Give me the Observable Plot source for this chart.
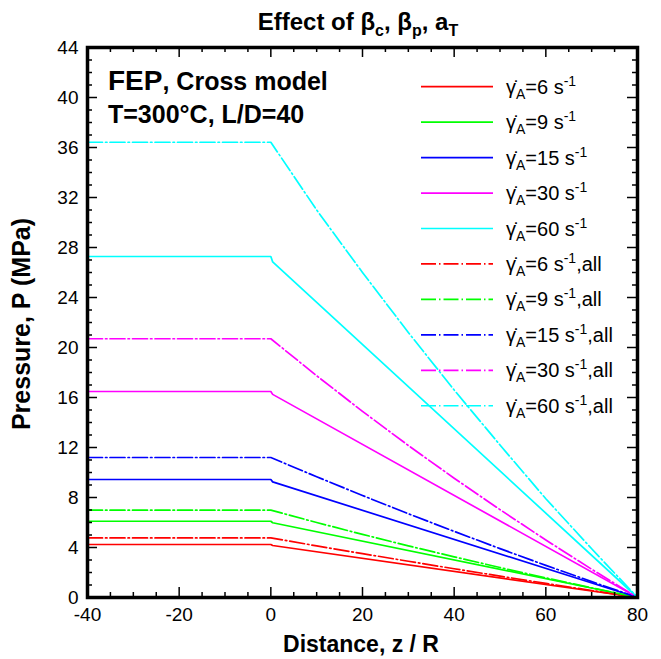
<!DOCTYPE html>
<html>
<head>
<meta charset="utf-8">
<script src="https://cdn.jsdelivr.net/npm/d3@7"></script>
<script src="https://cdn.jsdelivr.net/npm/@observablehq/plot@0.6"></script>
<style>
  html, body { margin: 0; padding: 0; background: #fff; }
  #chart svg { display: block; }
</style>
</head>
<body>
<div id="chart"></div>
<script>
// ---- data ----
const rates = ["6", "9", "15", "30", "60"];
const colors = ["#ff0000", "#00ff00", "#0000ff", "#ff00ff", "#00ffff"];

// solid lines: plateau, small drop just after z=0, zero at exit
const solidX = [-40, 0, 0.4, 80];
const solidPlateau = [4.24, 6.10, 9.44, 16.48, 27.28];
const solidAfterEntry = [4.16, 5.98, 9.25, 16.25, 26.85];

// dash-dot lines ("all": beta_c, beta_p, a_T)
const allX = [-40, 0, 10, 20, 30, 40, 50, 60, 70, 80];
const all6  = [4.77, 4.77, 4.13, 3.51, 2.90, 2.30, 1.71, 1.13, 0.56, 0];
const all9  = [6.99, 6.99, 6.00, 5.05, 4.13, 3.25, 2.40, 1.57, 0.77, 0];
const all15 = [11.2, 11.2, 9.66, 8.16, 6.70, 5.29, 3.91, 2.57, 1.27, 0];
const all30 = [20.7, 20.7, 17.74, 14.89, 12.16, 9.54, 7.03, 4.60, 2.26, 0];
const all60 = [36.42, 36.42, 31.0, 26.0, 21.2, 16.6, 12.2, 7.9, 3.9, 0];
const allSeries = [all6, all9, all15, all30, all60];

const xMajor = [-40, -20, 0, 20, 40, 60, 80];
const yMajor = [0, 4, 8, 12, 16, 20, 24, 28, 32, 36, 40, 44];

// ---- tables ----
const solidRows = [];
rates.forEach((r, i) => {
  const ys = [solidPlateau[i], solidPlateau[i], solidAfterEntry[i], 0];
  solidX.forEach((x, j) => solidRows.push({series: r, color: colors[i], x, y: ys[j]}));
});
const allRows = [];
rates.forEach((r, i) => {
  allX.forEach((x, j) => allRows.push({series: r + "all", color: colors[i], x, y: allSeries[i][j]}));
});

const xMinor = d3.range(-40, 80.1, 5).filter(v => !xMajor.includes(v));
const yMinor = d3.range(0, 44.1, 1).filter(v => !yMajor.includes(v));

const W = 661, H = 659;
const mL = 87, mR = 24, mT = 47, mB = 62;
const pxX = 120 / (W - mL - mR);   // x units per pixel
const pxY = 44 / (H - mT - mB);    // y units per pixel
const majLen = 10, minLen = 5;

const FONT = "'Liberation Sans', Arial, Helvetica, sans-serif";

const plot = Plot.plot({
  width: W, height: H,
  marginLeft: mL, marginRight: mR, marginTop: mT, marginBottom: mB,
  style: {fontFamily: FONT, fontSize: "18px", color: "#000", background: "#fff", overflow: "visible"},
  x: {domain: [-40, 80]},
  y: {domain: [0, 44]},
  marks: [
    Plot.line(solidRows, {x: "x", y: "y", z: "series", stroke: "color", strokeWidth: 1.7}),
    Plot.line(allRows, {x: "x", y: "y", z: "series", stroke: "color", strokeWidth: 1.7, strokeDasharray: "15,3,1.5,3"}),
    Plot.ruleX(xMajor, {x: d => d, y1: 0, y2: majLen * pxY, stroke: "#000", strokeWidth: 1.5}),
    Plot.ruleX(xMinor, {x: d => d, y1: 0, y2: minLen * pxY, stroke: "#000", strokeWidth: 1.5}),
    Plot.ruleX(xMajor, {x: d => d, y1: 44, y2: 44 - majLen * pxY, stroke: "#000", strokeWidth: 1.5}),
    Plot.ruleX(xMinor, {x: d => d, y1: 44, y2: 44 - minLen * pxY, stroke: "#000", strokeWidth: 1.5}),
    Plot.ruleY(yMajor, {y: d => d, x1: -40, x2: -40 + majLen * pxX, stroke: "#000", strokeWidth: 1.5}),
    Plot.ruleY(yMinor, {y: d => d, x1: -40, x2: -40 + minLen * pxX, stroke: "#000", strokeWidth: 1.5}),
    Plot.ruleY(yMajor, {y: d => d, x1: 80, x2: 80 - majLen * pxX, stroke: "#000", strokeWidth: 1.5}),
    Plot.ruleY(yMinor, {y: d => d, x1: 80, x2: 80 - minLen * pxX, stroke: "#000", strokeWidth: 1.5}),
    Plot.axisX({ticks: xMajor, tickSize: 0, tickPadding: 10, label: null, fontSize: 19, tickFormat: d => String(d)}),
    Plot.axisY({ticks: yMajor, tickSize: 0, tickPadding: 9, label: null, fontSize: 19, tickFormat: d => String(d)}),
    Plot.frame({stroke: "#000", strokeWidth: 3.5})
  ]
});

document.getElementById("chart").appendChild(plot);

// ---- text and legend ----
const svg = d3.select(plot);
const g = svg.append("g").attr("font-family", FONT).attr("fill", "#000").attr("text-anchor", "start");

// title
const t = g.append("text").attr("x", 358).attr("y", 30)
  .attr("text-anchor", "middle").attr("font-weight", "bold").attr("font-size", 24);
t.append("tspan").text("Effect of β");
t.append("tspan").attr("font-size", 16).attr("dy", 6).text("c");
t.append("tspan").attr("dy", -6).text(", β");
t.append("tspan").attr("font-size", 16).attr("dy", 6).text("p");
t.append("tspan").attr("dy", -6).text(", a");
t.append("tspan").attr("font-size", 16).attr("dy", 6).text("T");

// axis titles
g.append("text").attr("x", 361).attr("y", 652)
  .attr("text-anchor", "middle").attr("font-weight", "bold").attr("font-size", 23)
  .text("Distance, z / R");
g.append("text").attr("transform", `translate(30,${(mT + H - mB) / 2 + 2}) rotate(-90)`)
  .attr("text-anchor", "middle").attr("font-weight", "bold").attr("font-size", 25)
  .text("Pressure, P (MPa)");

// annotation
const a1 = g.append("text").attr("x", 108).attr("y", 90).attr("font-weight", "bold");
a1.append("tspan").attr("font-size", 28).text("FEP");
a1.append("tspan").attr("font-size", 25).text(", Cross model");
g.append("text").attr("x", 108).attr("y", 123).attr("font-weight", "bold").attr("font-size", 25)
  .text("T=300°C, L/D=40");

// legend
const legendItems = [];
rates.forEach((r, i) => legendItems.push({rate: r, color: colors[i], dash: null, suffix: ""}));
rates.forEach((r, i) => legendItems.push({rate: r, color: colors[i], dash: "15,3,1.5,3", suffix: ",all"}));
legendItems.forEach((d, i) => {
  const y = 86.7 + i * 35.45;
  g.append("line").attr("x1", 421).attr("x2", 493).attr("y1", y).attr("y2", y)
    .attr("stroke", d.color).attr("stroke-width", 1.7)
    .attr("stroke-dasharray", d.dash);
  const tx = g.append("text").attr("x", 506).attr("y", y + 7).attr("font-size", 20);
  tx.append("tspan").text("γ̇");
  tx.append("tspan").attr("font-size", 14).attr("dy", 5).text("A");
  tx.append("tspan").attr("dy", -5).text("=" + d.rate + " s");
  tx.append("tspan").attr("font-size", 14).attr("dy", -8).text("-1");
  tx.append("tspan").attr("dy", 8).text(d.suffix);
});
</script>
</body>
</html>
